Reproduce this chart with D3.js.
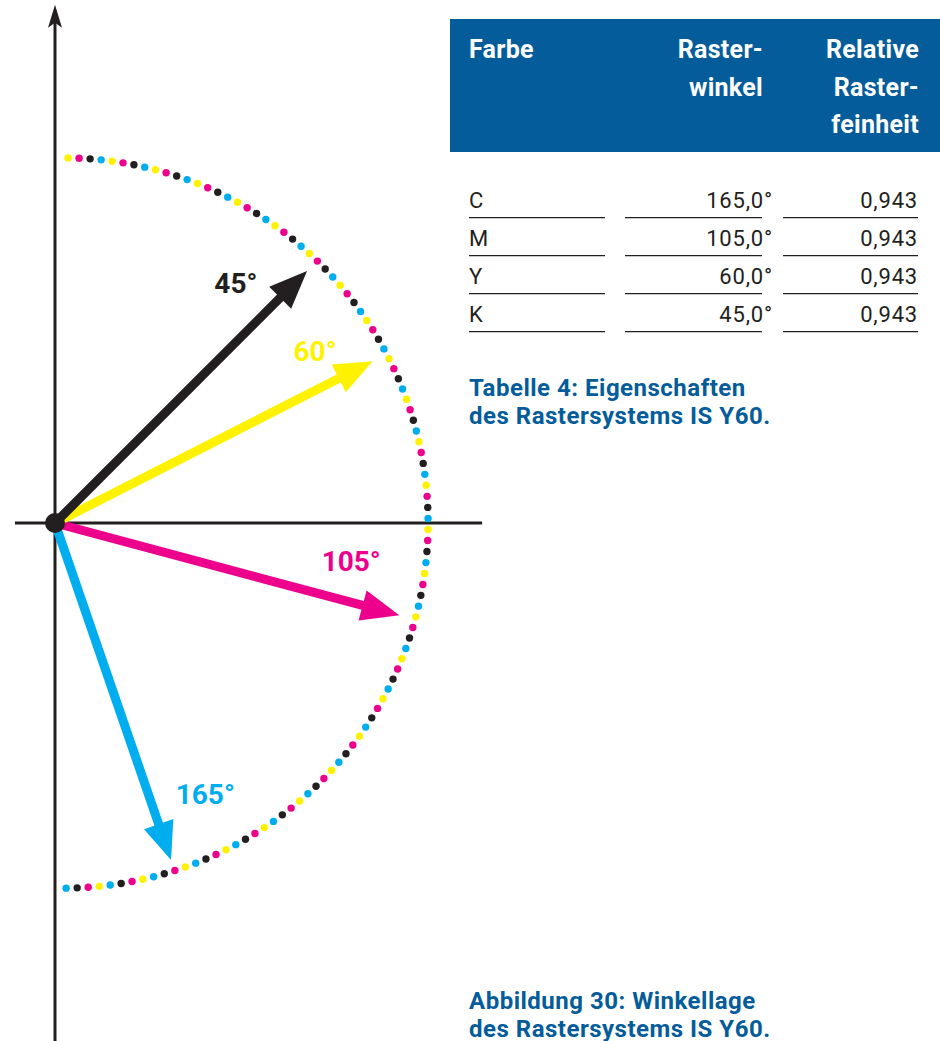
<!DOCTYPE html>
<html>
<head>
<meta charset="utf-8">
<script src="https://cdn.jsdelivr.net/npm/d3@7"></script>
<style>
  html, body { margin: 0; padding: 0; background: #fff; }
  svg { display: block; }
</style>
</head>
<body>
<svg id="chart" width="940" height="1041"></svg>
<script>
// ---------------- data ----------------
const farbe = ["C", "M", "Y", "K"];
const rasterwinkel = [165.0, 105.0, 60.0, 45.0];
const rasterfeinheit = [0.943, 0.943, 0.943, 0.943];
// direction of each vector as it is drawn in the figure (degrees, clockwise from the vertical axis)
const drawnAngle = [161, 105, 63, 45];
const labelTexts = ["165°", "105°", "60°", "45°"];
const headerCols = [["Farbe"], ["Raster-", "winkel"], ["Relative", "Raster-", "feinheit"]];
const tableCaption = ["Tabelle 4: Eigenschaften", "des Rastersystems IS Y60."];
const figureCaption = ["Abbildung 30: Winkellage", "des Rastersystems IS Y60."];
const arcColorCycle = ["Y", "M", "K", "C"];
const arcDotCount = 104;
const arcSpan = [0.8, 179.5];   // degrees, clockwise from vertical
const arcRadius = 0.966;         // relative to unit vector length
const arcCenterShift = 0.021;

// ---------------- styles ----------------
const inkColor = { C: "#00aeef", M: "#ec008c", Y: "#fff200", K: "#231f20" };
const blue = "#045c9b";
const dark = "#231f20";
const font = "Roboto, 'Open Sans', Arial, sans-serif";

const svg = d3.select("#chart");

// ---------------- polar diagram ----------------
const ox = 55, oy = 523;
const R = d3.scaleLinear().domain([0, 1]).range([0, 378]);
const xs = d3.scaleLinear().domain([0, 1]).range([ox, ox + R(1)]);
const ys = d3.scaleLinear().domain([0, 1]).range([oy, oy - R(1)]);
const rad = d => d * Math.PI / 180;
const pt = (angle, r, cx = 0) => [xs(cx + r * Math.sin(rad(angle))), ys(r * Math.cos(rad(angle)))];

const diag = svg.append("g");

// axes
diag.append("line")
  .attr("x1", xs(-0.106)).attr("x2", xs(1.13))
  .attr("y1", ys(0)).attr("y2", ys(0))
  .attr("stroke", dark).attr("stroke-width", 3);
diag.append("line")
  .attr("x1", xs(0)).attr("x2", xs(0))
  .attr("y1", ys(-1.4)).attr("y2", ys(1.33))
  .attr("stroke", dark).attr("stroke-width", 3);
// arrow tip of vertical axis
const tipY = ys(1.371);
diag.append("path")
  .attr("d", `M${xs(0)},${tipY} L${xs(0) + 7},${tipY + 23} L${xs(0)},${tipY + 18} L${xs(0) - 7},${tipY + 23} Z`)
  .attr("fill", dark);

// dotted arc
const arcAngles = d3.range(arcDotCount).map(i => arcSpan[0] + i * (arcSpan[1] - arcSpan[0]) / (arcDotCount - 1));
diag.append("g").selectAll("circle")
  .data(arcAngles)
  .join("circle")
  .attr("cx", d => pt(d, arcRadius, arcCenterShift)[0])
  .attr("cy", d => pt(d, arcRadius, arcCenterShift)[1])
  .attr("r", 3.7)
  .attr("fill", (d, i) => inkColor[arcColorCycle[i % 4]]);

// vectors
const vectors = farbe.map((f, i) => ({ f, angle: drawnAngle[i], len: rasterfeinheit[i], label: labelTexts[i] }));
const headLen = 38, headW = 31, shaftW = 9;
const vg = diag.append("g").selectAll("g")
  .data(vectors)
  .join("g")
  .attr("transform", d => `translate(${xs(0)},${ys(0)}) rotate(${d.angle - 90})`);
vg.append("line")
  .attr("x1", 0).attr("y1", 0)
  .attr("x2", d => R(d.len) - headLen + 2).attr("y2", 0)
  .attr("stroke", d => inkColor[d.f]).attr("stroke-width", shaftW);
vg.append("path")
  .attr("d", d => {
    const L = R(d.len);
    return `M${L - headLen},${-headW / 2} L${L},0 L${L - headLen},${headW / 2} Z`;
  })
  .attr("fill", d => inkColor[d.f]);

// origin dot
diag.append("circle").attr("cx", xs(0)).attr("cy", ys(0)).attr("r", 10).attr("fill", dark);

// labels
const labelPlace = { C: [-10, 0.82], M: [-7.7, 0.79], Y: [-6.5, 0.825], K: [-8, 0.795] };
diag.append("g").selectAll("text")
  .data(vectors)
  .join("text")
  .attr("x", d => pt(d.angle + labelPlace[d.f][0], labelPlace[d.f][1])[0])
  .attr("y", d => pt(d.angle + labelPlace[d.f][0], labelPlace[d.f][1])[1] + 10)
  .attr("text-anchor", "middle")
  .attr("font-family", font).attr("font-weight", 700).attr("font-size", 28)
  .attr("fill", d => inkColor[d.f])
  .text(d => d.label);

// ---------------- table ----------------
const de = d3.formatLocale({ decimal: ",", thousands: ".", grouping: [3], currency: ["", " €"] });
const fmtAngle = de.format(".1f"), fmtFine = de.format(".3f");

const tbl = svg.append("g");
tbl.append("rect").attr("x", 450).attr("y", 19).attr("width", 490).attr("height", 133).attr("fill", blue);

const colRight = [null, 763, 919];
const colLeft = 469;
const headLine = d3.scaleLinear().domain([0, 1]).range([58, 95.5]);
headerCols.forEach((lines, c) => {
  lines.forEach((t, k) => {
    tbl.append("text")
      .attr("x", c === 0 ? colLeft : colRight[c])
      .attr("y", headLine(k))
      .attr("text-anchor", c === 0 ? "start" : "end")
      .attr("font-family", font).attr("font-weight", 700).attr("font-size", 25)
      .attr("letter-spacing", 0.3)
      .attr("fill", "#fff")
      .text(t);
  });
});

const rowY = d3.scaleLinear().domain([0, 1]).range([208, 246]);
const cols = [[469, 605], [625, 762], [783, 918]];
farbe.forEach((f, i) => {
  const y = rowY(i);
  const cells = [f, fmtAngle(rasterwinkel[i]) + "°", fmtFine(rasterfeinheit[i])];
  const xpos = [469, 773, 918];
  cells.forEach((t, c) => {
    tbl.append("text")
      .attr("x", xpos[c]).attr("y", y)
      .attr("text-anchor", c === 0 ? "start" : "end")
      .attr("font-family", font).attr("font-size", 22)
      .attr("letter-spacing", c === 0 ? 0 : 0.8)
      .attr("fill", dark)
      .text(t);
  });
  cols.forEach(([a, b]) => {
    tbl.append("line")
      .attr("x1", a).attr("x2", b)
      .attr("y1", y + 9.7).attr("y2", y + 9.7)
      .attr("stroke", dark).attr("stroke-width", 1.2);
  });
});

// captions
const cap = (lines, y0) => lines.forEach((t, k) => {
  svg.append("text")
    .attr("x", 469).attr("y", y0 + k * 28)
    .attr("font-family", font).attr("font-weight", 700).attr("font-size", 24)
    .attr("letter-spacing", 0.5)
    .attr("fill", blue)
    .text(t);
});
cap(tableCaption, 396);
cap(figureCaption, 1009);
</script>
</body>
</html>
